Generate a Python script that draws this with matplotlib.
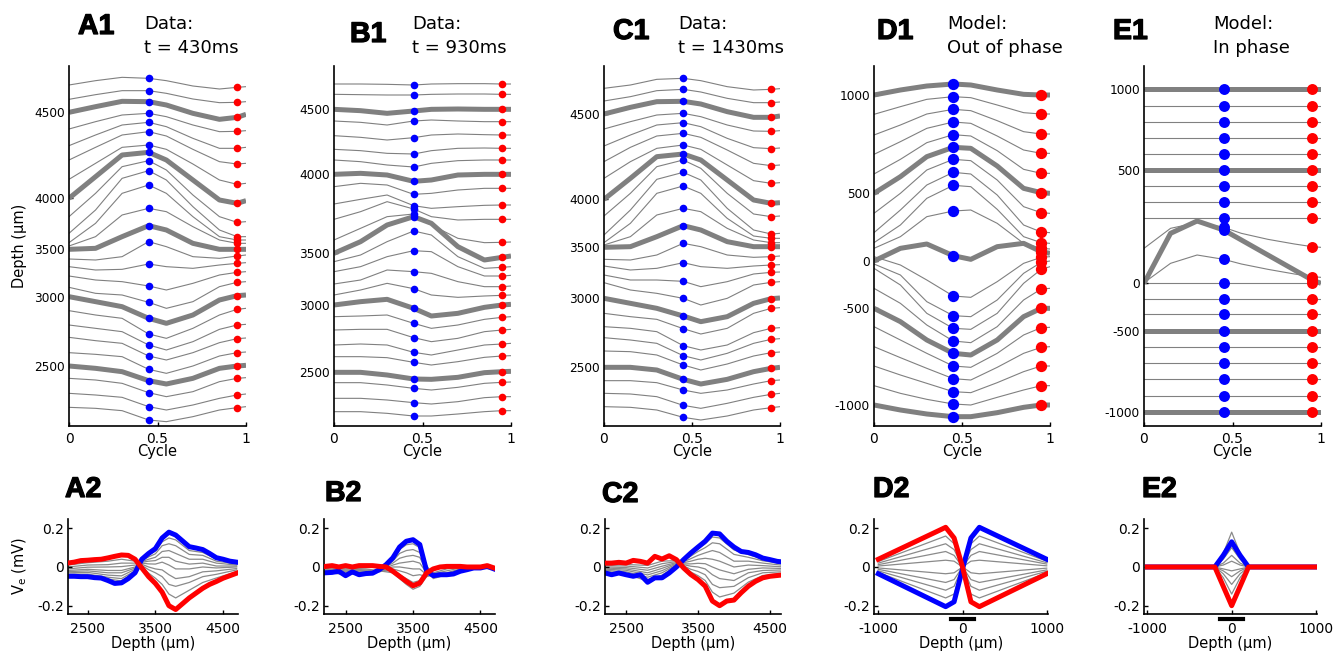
import matplotlib
matplotlib.use("Agg")
import matplotlib.pyplot as plt
import matplotlib.patheffects as pe

# ---------------------------------------------------------------------------
# Top row: position of each recording channel over one cycle.
# Vertical values are plot units (grow downward), sampled at the cycle knots.
# ---------------------------------------------------------------------------
CYCLE = [0, 0.15, 0.3, 0.45, 0.55, 0.7, 0.85, 0.95, 1.0]
BLUE_K, RED_K = 3, 7          # knots carrying the blue / red phase markers

a1_traces = [
    [75, 62, 52, 55, 62, 78, 87, 82, 80],
    [118, 104, 92, 92, 100, 117, 128, 127, 125],
    [157, 140, 124, 125, 135, 160, 178, 172, 163],
    [207, 185, 165, 160, 170, 195, 215, 214, 212],
    [257, 225, 195, 187, 200, 235, 265, 265, 262],
    [300, 262, 225, 215, 228, 268, 305, 312, 310],
    [358, 310, 262, 255, 268, 312, 360, 373, 370],
    [415, 350, 285, 277, 300, 360, 420, 430, 422],
    [470, 400, 320, 302, 330, 405, 470, 487, 485],
    [520, 450, 355, 332, 360, 440, 510, 530, 530],
    [548, 490, 400, 375, 400, 470, 530, 540, 540],
    [558, 530, 465, 445, 455, 500, 540, 550, 550],
    [568, 565, 530, 497, 510, 550, 568, 568, 568],
    [597, 600, 590, 545, 560, 590, 595, 588, 585],
    [620, 630, 628, 612, 620, 625, 615, 610, 608],
    [648, 660, 665, 678, 690, 670, 645, 637, 635],
    [682, 700, 705, 727, 745, 725, 680, 667, 665],
    [710, 725, 740, 775, 790, 765, 720, 707, 705],
    [752, 765, 775, 822, 835, 805, 765, 748, 745],
    [795, 805, 815, 855, 870, 845, 808, 795, 793],
    [832, 842, 850, 888, 900, 878, 848, 836, 834],
    [878, 883, 890, 928, 940, 918, 888, 878, 876],
    [918, 925, 935, 962, 972, 955, 925, 918, 916],
    [955, 960, 970, 998, 1010, 995, 965, 955, 953],
    [1000, 1005, 1012, 1040, 1050, 1035, 1015, 1005, 1002],
    [1042, 1045, 1052, 1080, 1085, 1070, 1050, 1043, 1040],
]

b1_traces = [
    [72, 72, 73, 75, 72, 71, 71, 72, 72],
    [103, 104, 105, 105, 103, 102, 102, 103, 103],
    [148, 152, 160, 153, 148, 147, 148, 148, 148],
    [183, 187, 195, 183, 180, 183, 185, 185, 185],
    [227, 232, 240, 233, 225, 222, 224, 225, 225],
    [268, 272, 280, 282, 272, 265, 264, 265, 265],
    [300, 305, 315, 321, 310, 302, 300, 300, 300],
    [343, 340, 345, 364, 360, 345, 343, 343, 343],
    [380, 370, 375, 403, 400, 390, 385, 385, 385],
    [432, 418, 405, 437, 445, 440, 436, 435, 435],
    [478, 455, 425, 447, 470, 480, 478, 478, 478],
    [540, 505, 470, 462, 495, 535, 548, 547, 546],
    [580, 545, 495, 470, 490, 560, 600, 592, 588],
    [605, 585, 545, 513, 525, 590, 625, 622, 620],
    [635, 620, 590, 572, 575, 620, 648, 648, 646],
    [672, 660, 630, 635, 640, 665, 680, 680, 678],
    [705, 690, 670, 686, 705, 712, 708, 706, 705],
    [735, 725, 718, 745, 768, 760, 742, 735, 733],
    [770, 768, 765, 790, 805, 795, 778, 772, 770],
    [810, 808, 808, 833, 845, 835, 815, 810, 808],
    [855, 852, 855, 877, 885, 870, 855, 852, 850],
    [890, 890, 893, 907, 915, 905, 892, 888, 887],
    [937, 937, 945, 957, 958, 952, 938, 935, 934],
    [968, 968, 975, 985, 990, 982, 970, 967, 966],
    [1015, 1015, 1020, 1028, 1032, 1025, 1013, 1010, 1010],
    [1055, 1055, 1060, 1068, 1068, 1062, 1055, 1052, 1052],
]

c1_traces = [
    [85, 75, 58, 55, 62, 80, 90, 88, 86],
    [123, 110, 92, 88, 96, 115, 128, 128, 126],
    [162, 142, 125, 124, 132, 155, 172, 172, 168],
    [207, 185, 165, 160, 170, 195, 213, 214, 212],
    [258, 225, 195, 188, 200, 235, 263, 266, 264],
    [305, 262, 228, 220, 232, 270, 310, 317, 315],
    [355, 305, 265, 255, 268, 315, 362, 370, 368],
    [418, 355, 290, 282, 300, 360, 420, 430, 428],
    [468, 400, 320, 300, 325, 400, 462, 470, 468],
    [525, 450, 358, 337, 360, 445, 510, 522, 520],
    [548, 490, 400, 378, 400, 475, 528, 535, 535],
    [555, 530, 465, 445, 455, 505, 540, 548, 548],
    [562, 560, 530, 497, 510, 545, 560, 560, 560],
    [598, 600, 585, 550, 560, 585, 592, 590, 588],
    [618, 630, 625, 608, 620, 625, 618, 615, 614],
    [645, 660, 660, 664, 680, 665, 642, 637, 636],
    [668, 690, 700, 715, 735, 715, 675, 667, 665],
    [715, 730, 745, 768, 785, 770, 730, 716, 714],
    [760, 770, 778, 806, 822, 805, 760, 745, 743],
    [800, 805, 815, 857, 870, 855, 818, 805, 803],
    [833, 840, 850, 887, 900, 880, 850, 838, 836],
    [873, 875, 885, 915, 930, 912, 888, 878, 876],
    [922, 922, 930, 958, 972, 958, 935, 925, 922],
    [962, 962, 968, 990, 1000, 990, 972, 962, 960],
    [1000, 1002, 1010, 1036, 1045, 1030, 1012, 1003, 1000],
    [1040, 1042, 1050, 1072, 1080, 1068, 1050, 1043, 1040],
]

d1_traces = [
    [105, 90, 78, 72, 75, 90, 103, 105, 105],
    [163, 140, 118, 110, 113, 135, 158, 162, 162],
    [225, 195, 162, 148, 152, 182, 215, 222, 222],
    [283, 245, 205, 186, 190, 228, 270, 280, 280],
    [342, 298, 248, 224, 228, 272, 328, 340, 340],
    [400, 350, 290, 262, 265, 318, 385, 398, 400],
    [460, 400, 330, 298, 302, 360, 440, 458, 460],
    [518, 450, 375, 337, 342, 405, 495, 516, 518],
    [548, 495, 415, 376, 380, 448, 530, 548, 550],
    [565, 530, 470, 453, 450, 490, 550, 565, 567],
    [603, 565, 552, 587, 598, 560, 550, 575, 580],
    [590, 615, 660, 708, 712, 665, 610, 592, 590],
    [612, 645, 725, 767, 770, 720, 640, 607, 603],
    [625, 675, 760, 805, 808, 760, 670, 628, 620],
    [685, 730, 795, 843, 848, 800, 720, 687, 685],
    [745, 785, 840, 880, 885, 840, 770, 745, 745],
    [800, 840, 880, 918, 922, 880, 825, 803, 802],
    [860, 893, 925, 956, 960, 922, 880, 862, 860],
    [918, 945, 970, 995, 998, 968, 935, 918, 918],
    [977, 1000, 1018, 1032, 1035, 1012, 990, 977, 977],
    [1035, 1050, 1062, 1070, 1070, 1058, 1042, 1035, 1035],
]

e1_traces = [
    [88, 88, 88, 88, 88, 88, 88, 88, 88],
    [138, 138, 138, 138, 138, 138, 138, 138, 138],
    [185, 185, 185, 185, 185, 185, 185, 185, 185],
    [233, 233, 233, 233, 233, 233, 233, 233, 233],
    [282, 282, 282, 282, 282, 282, 282, 282, 282],
    [330, 330, 330, 330, 330, 330, 330, 330, 330],
    [377, 377, 377, 377, 377, 377, 377, 377, 377],
    [426, 426, 426, 426, 426, 426, 426, 426, 426],
    [475, 475, 475, 475, 475, 475, 475, 475, 475],
    [565, 505, 488, 502, 520, 538, 552, 560, 562],
    [670, 520, 483, 510, 540, 585, 630, 660, 670],
    [668, 610, 585, 598, 612, 628, 642, 650, 652],
    [668, 668, 668, 668, 668, 668, 668, 668, 668],
    [717, 717, 717, 717, 717, 717, 717, 717, 717],
    [763, 763, 763, 763, 763, 763, 763, 763, 763],
    [813, 813, 813, 813, 813, 813, 813, 813, 813],
    [861, 861, 861, 861, 861, 861, 861, 861, 861],
    [908, 908, 908, 908, 908, 908, 908, 908, 908],
    [958, 958, 958, 958, 958, 958, 958, 958, 958],
    [1007, 1007, 1007, 1007, 1007, 1007, 1007, 1007, 1007],
    [1055, 1055, 1055, 1055, 1055, 1055, 1055, 1055, 1055],
]

# channels drawn thick, and the depth label shown at their start
data_thick = [2, 7, 12, 17, 22]
data_thick_labels = ["4500", "4000", "3500", "3000", "2500"]
model_thick = [0, 5, 10, 15, 20]
model_thick_labels = ["1000", "500", "0", "-500", "-1000"]

# ---------------------------------------------------------------------------
# Bottom row: extracellular potential (mV) versus depth (um)
# ---------------------------------------------------------------------------
DEPTH = [2200, 2300, 2400, 2500, 2600, 2700, 2800, 2900, 3000, 3100, 3200, 3300, 3400,
         3500, 3600, 3700, 3800, 3900, 4000, 4100, 4200, 4300, 4400, 4500, 4600, 4700]
GRAY_DEPTH = [2200, 2500, 2800, 3000, 3200, 3300, 3400, 3500, 3600, 3700, 3800,
              4000, 4200, 4400, 4700]
MODEL_DEPTH = [-1000, -200, -100, 0, 100, 200, 1000]

a2_blue = [-0.048, -0.048, -0.05, -0.05, -0.055, -0.057, -0.07, -0.085, -0.082, -0.06, -0.03,
           0.04, 0.07, 0.095, 0.15, 0.18, 0.165, 0.135, 0.105, 0.098, 0.09, 0.07, 0.048,
           0.04, 0.03, 0.025]
a2_red = [0.02, 0.025, 0.033, 0.035, 0.038, 0.04, 0.047, 0.055, 0.062, 0.06, 0.04, -0.005,
          -0.05, -0.085, -0.13, -0.2, -0.22, -0.19, -0.16, -0.135, -0.11, -0.09, -0.075,
          -0.058, -0.045, -0.032]
a2_gray = [
    [0.01, 0.022, 0.03, 0.04, 0.03, 0.002, -0.032, -0.058, -0.09, -0.14, -0.16, -0.12, -0.08, -0.057, -0.024],
    [0.0, 0.01, 0.012, 0.02, 0.02, 0.008, -0.014, -0.03, -0.05, -0.09, -0.1, -0.08, -0.05, -0.038, -0.015],
    [-0.01, -0.001, 0.0, 0.002, 0.01, 0.014, 0.0, -0.01, -0.015, -0.04, -0.06, -0.05, -0.025, -0.02, -0.008],
    [-0.018, -0.012, -0.018, -0.018, 0.0, 0.02, 0.016, 0.015, 0.025, 0.01, -0.01, -0.01, 0.0, -0.005, 0.0],
    [-0.024, -0.02, -0.03, -0.03, -0.006, 0.024, 0.03, 0.033, 0.05, 0.05, 0.03, 0.015, 0.02, 0.005, 0.005],
    [-0.03, -0.028, -0.042, -0.046, -0.012, 0.028, 0.04, 0.05, 0.08, 0.085, 0.07, 0.04, 0.04, 0.02, 0.01],
    [-0.037, -0.037, -0.053, -0.06, -0.02, 0.033, 0.052, 0.068, 0.11, 0.12, 0.11, 0.065, 0.06, 0.03, 0.016],
    [-0.043, -0.044, -0.062, -0.072, -0.025, 0.036, 0.062, 0.082, 0.13, 0.15, 0.14, 0.085, 0.075, 0.04, 0.02],
]

b2_blue = [-0.03, -0.028, -0.022, -0.045, -0.025, -0.04, -0.034, -0.032, -0.014, 0.012, 0.047,
           0.103, 0.133, 0.141, 0.116, -0.02, -0.045, -0.04, -0.04, -0.036, -0.022, -0.014,
           -0.005, -0.005, 0.003, -0.01]
b2_red = [0.003, 0.007, 0.0, 0.007, 0.0, 0.007, 0.007, 0.007, 0.003, 0.0, -0.022, -0.048,
          -0.074, -0.097, -0.083, -0.031, -0.01, 0.0, 0.003, 0.003, 0.003, 0.0, 0.0, 0.0,
          0.007, -0.005]
b2_gray = [
    [-0.005, -0.005, -0.01, -0.02, -0.03, -0.06, -0.09, -0.115, -0.1, -0.05, -0.03, -0.01, 0.0, 0.0, -0.005],
    [-0.01, -0.01, -0.015, -0.02, -0.02, -0.04, -0.06, -0.08, -0.07, -0.04, -0.035, -0.02, -0.005, 0.0, -0.005],
    [-0.012, -0.015, -0.02, -0.025, -0.01, -0.02, -0.03, -0.045, -0.04, -0.05, -0.04, -0.03, -0.01, -0.002, -0.006],
    [-0.015, -0.02, -0.02, -0.02, 0.0, 0.0, -0.005, -0.01, -0.01, -0.04, -0.05, -0.035, -0.015, -0.004, -0.006],
    [-0.018, -0.025, -0.025, -0.02, 0.01, 0.02, 0.025, 0.03, 0.02, -0.03, -0.05, -0.035, -0.016, -0.004, -0.008],
    [-0.02, -0.03, -0.028, -0.018, 0.02, 0.045, 0.055, 0.06, 0.05, -0.02, -0.055, -0.04, -0.018, -0.005, -0.008],
    [-0.024, -0.035, -0.03, -0.016, 0.03, 0.07, 0.085, 0.09, 0.075, 0.0, -0.06, -0.04, -0.02, -0.005, -0.009],
    [-0.027, -0.04, -0.032, -0.015, 0.04, 0.09, 0.115, 0.12, 0.1, 0.01, -0.05, -0.042, -0.02, -0.005, -0.009],
]

c2_blue = [-0.03, -0.04, -0.031, -0.04, -0.048, -0.04, -0.079, -0.056, -0.056, -0.031, 0.0,
           0.038, 0.072, 0.103, 0.133, 0.175, 0.171, 0.133, 0.103, 0.08, 0.075, 0.063,
           0.046, 0.038, 0.029, 0.025]
c2_red = [0.02, 0.02, 0.024, 0.02, 0.034, 0.029, 0.02, 0.055, 0.041, 0.058, 0.038, -0.005,
          -0.039, -0.065, -0.099, -0.176, -0.2, -0.176, -0.171, -0.133, -0.099, -0.074,
          -0.056, -0.048, -0.044, -0.04]
c2_gray = [
    [0.014, 0.013, 0.008, 0.03, 0.033, 0.0, -0.026, -0.045, -0.07, -0.13, -0.155, -0.135, -0.078, -0.044, -0.032],
    [0.008, 0.005, -0.005, 0.017, 0.028, 0.006, -0.012, -0.023, -0.04, -0.09, -0.107, -0.1, -0.055, -0.03, -0.024],
    [0.001, -0.003, -0.017, 0.004, 0.023, 0.012, 0.004, 0.0, -0.01, -0.04, -0.06, -0.07, -0.03, -0.018, -0.015],
    [-0.005, -0.01, -0.03, -0.007, 0.019, 0.016, 0.016, 0.019, 0.017, 0.0, -0.015, -0.035, -0.012, -0.005, -0.008],
    [-0.011, -0.017, -0.041, -0.019, 0.015, 0.022, 0.03, 0.04, 0.045, 0.04, 0.03, 0.0, 0.01, 0.007, 0.0],
    [-0.017, -0.025, -0.053, -0.03, 0.01, 0.027, 0.043, 0.06, 0.073, 0.085, 0.075, 0.03, 0.03, 0.02, 0.008],
    [-0.023, -0.032, -0.065, -0.042, 0.005, 0.032, 0.056, 0.08, 0.1, 0.125, 0.12, 0.065, 0.05, 0.032, 0.016],
    [-0.027, -0.036, -0.073, -0.05, 0.002, 0.036, 0.065, 0.093, 0.12, 0.155, 0.15, 0.088, 0.064, 0.04, 0.021],
]

d2_blue = [-0.035, -0.205, -0.18, -0.01, 0.15, 0.205, 0.04]
d2_red = [0.04, 0.205, 0.15, 0.0, -0.18, -0.205, -0.035]
d2_gray = [
    [0.028, 0.16, 0.12, 0.0, -0.14, -0.16, -0.03],
    [0.02, 0.12, 0.09, 0.0, -0.1, -0.12, -0.022],
    [0.012, 0.08, 0.06, 0.0, -0.065, -0.08, -0.015],
    [0.005, 0.035, 0.03, 0.0, -0.03, -0.035, -0.006],
    [-0.005, -0.035, -0.03, 0.0, 0.03, 0.035, 0.006],
    [-0.012, -0.08, -0.065, 0.0, 0.06, 0.08, 0.015],
    [-0.02, -0.12, -0.1, 0.0, 0.09, 0.12, 0.022],
    [-0.028, -0.16, -0.14, 0.0, 0.12, 0.16, 0.03],
]

e2_blue = [0.0, 0.0, 0.06, 0.13, 0.06, 0.0, 0.0]
e2_red = [0.0, 0.0, -0.1, -0.2, -0.1, 0.0, 0.0]
e2_gray = [
    [0.0, 0.0, 0.07, 0.18, 0.07, 0.0, 0.0],
    [0.0, 0.0, 0.04, 0.1, 0.04, 0.0, 0.0],
    [0.0, 0.0, 0.02, 0.06, 0.02, 0.0, 0.0],
    [0.0, 0.0, 0.01, 0.03, 0.01, 0.0, 0.0],
    [0.0, 0.0, -0.01, -0.02, -0.01, 0.0, 0.0],
    [0.0, 0.0, -0.02, -0.05, -0.02, 0.0, 0.0],
    [0.0, 0.0, -0.035, -0.09, -0.035, 0.0, 0.0],
    [0.0, 0.0, -0.055, -0.14, -0.055, 0.0, 0.0],
]
source_bar = [-140, 140]     # black bar under the model profiles (um)

GRAY = "#808080"
W, H = 1344, 653


def rect(x0, y0, x1, y1):
    # pixel box of the reference -> figure fraction
    return [x0 / W, 1 - y1 / H, (x1 - x0) / W, (y1 - y0) / H]


def style(ax, fs):
    for s in ("top", "right"):
        ax.spines[s].set_visible(False)
    for s in ("left", "bottom"):
        ax.spines[s].set_linewidth(1.2)
    ax.tick_params(direction="in", length=3, width=1, labelsize=fs, pad=3)


def top_panel(ax, traces, thick, labels, dot, ylabel=False):
    for i, tr in enumerate(traces):
        if i in thick:
            ax.plot(CYCLE, tr, color=GRAY, lw=3.6, zorder=2, solid_capstyle="butt")
        else:
            ax.plot(CYCLE, tr, color=GRAY, lw=0.8, zorder=1)
    ax.scatter([CYCLE[BLUE_K]] * len(traces), [tr[BLUE_K] for tr in traces],
               s=dot, color="#0000ff", linewidths=0, zorder=3)
    ax.scatter([CYCLE[RED_K]] * len(traces), [tr[RED_K] for tr in traces],
               s=dot, color="#ff0000", linewidths=0, zorder=3)
    ax.set_xlim(0, 1)
    ax.set_ylim(1098, 18)
    ax.set_xticks([0, 0.5, 1])
    ax.set_xticklabels(["0", "0.5", "1"], fontsize=10)
    ax.set_yticks([traces[i][0] for i in thick])
    ax.set_yticklabels(labels)
    style(ax, 8.7)
    ax.tick_params(axis="x", labelsize=10, pad=4)
    ax.set_xlabel("Cycle", fontsize=10.5, labelpad=-1)
    if ylabel:
        ax.set_ylabel("Depth (µm)", fontsize=10.5, labelpad=5)


def bottom_panel(ax, depth, gdepth, gray, blue, red, xlim, xticks, ylabel=False):
    for g in gray:
        ax.plot(gdepth, g, color="#8a8a8a", lw=0.9, zorder=1)
    ax.plot(depth, blue, color="#0000ff", lw=3.6, zorder=2, solid_joinstyle="round")
    ax.plot(depth, red, color="#ff0000", lw=3.6, zorder=3, solid_joinstyle="round")
    ax.set_xlim(*xlim)
    ax.set_ylim(-0.243, 0.248)
    ax.set_xticks(xticks)
    ax.set_xticklabels([str(t) for t in xticks])
    ax.set_yticks([-0.2, 0, 0.2])
    ax.set_yticklabels(["-0.2", "0", "0.2"])
    style(ax, 10)
    ax.tick_params(axis="x", pad=6)
    ax.set_xlabel("Depth (µm)", fontsize=10.5, labelpad=0)
    if ylabel:
        ax.set_ylabel("V$_\\mathregular{e}$ (mV)", fontsize=10.5, labelpad=6)


fig = plt.figure(figsize=(W / 100, H / 100), dpi=100)

top_boxes = [(69, 246), (334, 511), (604, 780), (874, 1050), (1144, 1321)]
top_data = [(a1_traces, data_thick, data_thick_labels, 30),
            (b1_traces, data_thick, data_thick_labels, 30),
            (c1_traces, data_thick, data_thick_labels, 30),
            (d1_traces, model_thick, model_thick_labels, 66),
            (e1_traces, model_thick, model_thick_labels, 62)]
for k, ((x0, x1), (tr, th, lb, dot)) in enumerate(zip(top_boxes, top_data)):
    ax = fig.add_axes(rect(x0, 66, x1, 426))
    top_panel(ax, tr, th, lb, dot, ylabel=(k == 0))

bottom = [
    ((68, 238), DEPTH, GRAY_DEPTH, a2_gray, a2_blue, a2_red, (2210, 4720), [2500, 3500, 4500]),
    ((324, 495), DEPTH, GRAY_DEPTH, b2_gray, b2_blue, b2_red, (2180, 4715), [2500, 3500, 4500]),
    ((605, 781), DEPTH, GRAY_DEPTH, c2_gray, c2_blue, c2_red, (2208, 4653), [2500, 3500, 4500]),
    ((874, 1048), MODEL_DEPTH, MODEL_DEPTH, d2_gray, d2_blue, d2_red, (-1051, 1015), [-1000, 0, 1000]),
    ((1144, 1317), MODEL_DEPTH, MODEL_DEPTH, e2_gray, e2_blue, e2_red, (-1040, 1012), [-1000, 0, 1000]),
]
for k, ((x0, x1), dp, gd, gr, bl, rd, xl, xt) in enumerate(bottom):
    ax = fig.add_axes(rect(x0, 519, x1, 614))
    bottom_panel(ax, dp, gd, gr, bl, rd, xl, xt, ylabel=(k == 0))
    if k >= 3:
        ax.plot(source_bar, [-0.05, -0.05], color="black", lw=3,
                transform=ax.get_xaxis_transform(), clip_on=False)

# panel letters and headings
letter_font = dict(fontsize=20.5, fontweight="bold", family="Liberation Sans",
                   path_effects=[pe.withStroke(linewidth=0.9, foreground="black")])
letters = [("A1", 78, 34), ("B1", 350, 42), ("C1", 613, 39), ("D1", 877, 39), ("E1", 1113, 39),
           ("A2", 65, 497), ("B2", 325, 501), ("C2", 602, 502), ("D2", 873, 497), ("E2", 1142, 497)]
for txt, x, y in letters:
    fig.text(x / W, 1 - y / H, txt, ha="left", va="baseline", **letter_font)

headings = [("Data:", "t = 430ms", 144), ("Data:", "t = 930ms", 412),
            ("Data:", "t = 1430ms", 678), ("Model:", "Out of phase", 947),
            ("Model:", "In phase", 1213)]
for l1, l2, x in headings:
    fig.text(x / W, 1 - 29 / H, l1, fontsize=13, ha="left", va="baseline")
    fig.text(x / W, 1 - 53 / H, l2, fontsize=13, ha="left", va="baseline")

fig.savefig("out.png", dpi=100)
